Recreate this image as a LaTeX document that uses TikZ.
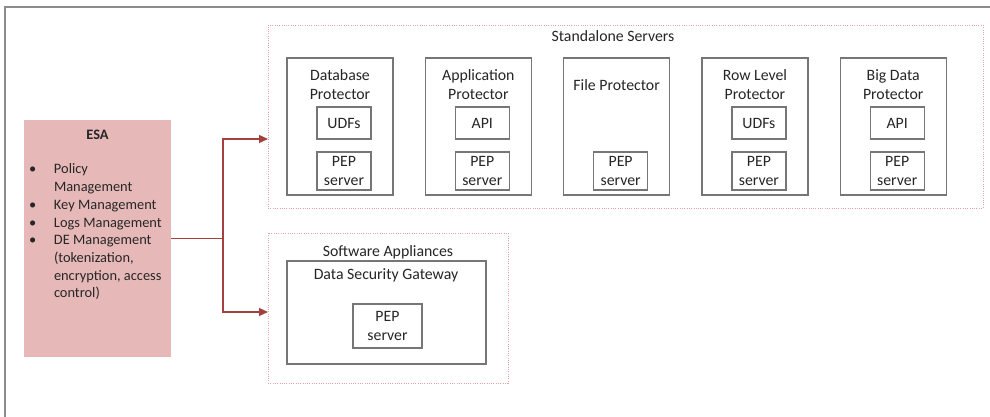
\documentclass[tikz,border=0pt]{standalone}
\usepackage{fontspec}
\setmainfont{Carlito}
\usetikzlibrary{arrows.meta}
\definecolor{framegray}{HTML}{8C8C8C}
\definecolor{boxgray}{HTML}{767676}
\definecolor{esafill}{HTML}{E6B9B8}
\definecolor{linkred}{HTML}{A3413E}
\definecolor{dotpink}{HTML}{E7A3A3}
\newcommand{\boxfont}{\fontsize{15.8}{19}\selectfont}
\newcommand{\esafont}{\fontsize{14.4}{17.7}\selectfont}
\begin{document}
\begin{tikzpicture}[x=1pt,y=-1pt,
  every node/.style={inner sep=0pt, outer sep=0pt, text=black!85},
  label/.style={font=\boxfont, align=center},
  esabox/.style={fill=esafill, draw=none},
  groupbox/.style={draw=dotpink, line width=0.9pt, dash pattern=on 1pt off 1.3pt},
  protbox/.style={draw=boxgray, line width=1.3pt, minimum width=106pt, minimum height=137pt},
  innerbox/.style={draw=boxgray, line width=1.3pt, minimum width=54pt, font=\boxfont, align=center},
  udfbox/.style={innerbox, minimum height=32pt},
  pepbox/.style={innerbox, minimum height=38pt},
  conn/.style={draw=linkred, line width=1.2pt, -{Triangle[length=9pt,width=8pt]}}]
\useasboundingbox (0,0) rectangle (990,417);
\fill[white] (0,0) rectangle (990,417);

% page frame (top and left edges only)
\draw[framegray, line width=1.6pt] (5,420) -- (5,7) -- (992,7);

% ESA block
\node[esabox, minimum width=147pt, minimum height=237pt] (esa) at (97.5,238.5) {};
\node[font=\esafont\bfseries] (esatitle) at (97.5,135) {ESA};
\node[anchor=north west, font=\esafont, align=left] (esalist) at (29,161.6) {%
  \begin{tabular}{@{}p{25pt}@{}l@{}}
  • & Policy\\
    & Management\\
  • & Key Management\\
  • & Logs Management\\
  • & DE Management\\
    & (tokenization,\\
    & encryption, access\\
    & control)
  \end{tabular}};

% Standalone servers group
\node[groupbox, minimum width=715pt, minimum height=183pt] (ss) at (625.5,116.5) {};
\node[label] (sstitle) at (613,36) {Standalone Servers};

% Database Protector
\node[protbox] (dbp) at (340,126.5) {};
\node[label] (dbpt) at (340,84.5) {Database\\Protector};
\node[udfbox] (dbudf) at (344,123) {UDFs};
\node[pepbox] (dbpep) at (344,171) {PEP\\server};

% Application Protector
\node[protbox] (app) at (478.3,126.5) {};
\node[label] (appt) at (478.3,84.5) {Application\\Protector};
\node[udfbox] (appapi) at (482.3,123) {API};
\node[pepbox] (apppep) at (482.3,171) {PEP\\server};

% File Protector
\node[protbox] (fp) at (616.6,126.5) {};
\node[label] (fpt) at (616.6,85) {File Protector};
\node[pepbox] (fppep) at (620.6,171) {PEP\\server};

% Row Level Protector
\node[protbox] (rlp) at (754.9,126.5) {};
\node[label] (rlpt) at (754.9,84.5) {Row Level\\Protector};
\node[udfbox] (rlpudf) at (758.9,123) {UDFs};
\node[pepbox] (rlppep) at (758.9,171) {PEP\\server};

% Big Data Protector
\node[protbox] (bdp) at (893.2,126.5) {};
\node[label] (bdpt) at (893.2,84.5) {Big Data\\Protector};
\node[udfbox] (bdpapi) at (897.2,123) {API};
\node[pepbox] (bdppep) at (897.2,171) {PEP\\server};

% Software appliances group
\node[groupbox, minimum width=240pt, minimum height=150pt] (sa) at (388,308) {};
\node[label] (satitle) at (388,252) {Software Appliances};
\node[draw=boxgray, line width=1.3pt, minimum width=199pt, minimum height=103pt] (dsg) at (386.5,312.5) {};
\node[label] (dsgt) at (386,275) {Data Security Gateway};
\node[innerbox, minimum width=69pt, minimum height=44pt] (dsgpep) at (387.5,326) {PEP\\server};

% connectors from ESA
\coordinate (branch) at (223,238.5);
\coordinate (ssrow) at (0,139);
\coordinate (sarow) at (0,312);
\draw[draw=linkred, line width=1.2pt] (esa.east) -- (branch);
\draw[conn] (branch) |- (ss.west |- ssrow);
\draw[conn] (branch) |- (sa.west |- sarow);
\end{tikzpicture}
\end{document}
